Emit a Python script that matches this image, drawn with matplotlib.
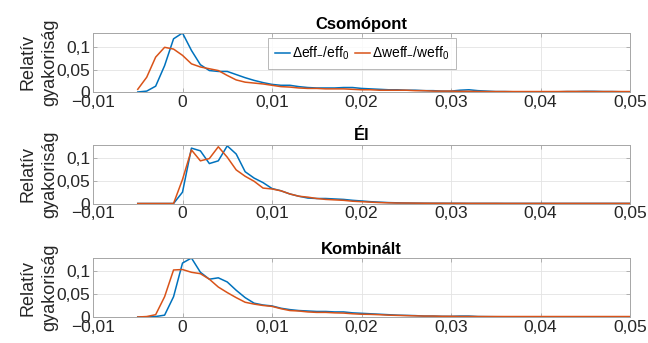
import numpy as np
import matplotlib
matplotlib.use("Agg")
import matplotlib.pyplot as plt
from matplotlib.ticker import FuncFormatter

plt.rcParams['font.family'] = ['Liberation Sans', 'DejaVu Sans']
plt.rcParams['mathtext.fontset'] = 'custom'
plt.rcParams['mathtext.rm'] = 'Liberation Sans'
plt.rcParams['mathtext.it'] = 'Liberation Sans:italic'

# x positions: -0.005 .. 0.050 step 0.001
x_start, x_stop, x_step = -0.005, 0.050, 0.001
x = np.round(np.arange(x_start, x_stop + x_step / 2, x_step), 4)

titles = ["Csomópont", "Él", "Kombinált"]
legend_labels = ["Δeff$_{-}$/eff$_{0}$", "Δweff$_{-}$/weff$_{0}$"]
ylabel = "Relatív\ngyakoriság"

csomo_eff = [0, 0.002, 0.013, 0.059, 0.119, 0.132, 0.093, 0.061, 0.048, 0.046,
             0.046, 0.039, 0.032, 0.026, 0.021, 0.017, 0.015, 0.015, 0.012, 0.010,
             0.009, 0.009, 0.009, 0.010, 0.010, 0.008, 0.007, 0.006, 0.005, 0.005,
             0.004, 0.004, 0.003, 0.003, 0.002, 0.002, 0.004, 0.005, 0.003, 0.002,
             0.001, 0.001, 0.0005, 0.0005, 0.0005, 0.0005, 0.0005, 0.0005, 0.001, 0.001,
             0.0015, 0.0015, 0.001, 0.001, 0.0005, 0.0005]
csomo_weff = [0.006, 0.033, 0.078, 0.100, 0.096, 0.082, 0.063, 0.056, 0.052, 0.048,
              0.037, 0.027, 0.022, 0.020, 0.018, 0.015, 0.012, 0.011, 0.009, 0.008,
              0.008, 0.007, 0.007, 0.007, 0.006, 0.005, 0.005, 0.004, 0.004, 0.004,
              0.004, 0.003, 0.003, 0.002, 0.002, 0.002, 0.0015, 0.0015, 0.0012, 0.001,
              0.001, 0.001, 0.001, 0.001, 0.001, 0.001, 0.001, 0.001, 0.0012, 0.0012,
              0.0012, 0.001, 0.001, 0.001, 0.001, 0.001]
el_eff = [0, 0, 0, 0, 0, 0.025, 0.122, 0.116, 0.088, 0.094,
          0.127, 0.109, 0.070, 0.056, 0.046, 0.033, 0.028, 0.021, 0.016, 0.012,
          0.011, 0.011, 0.010, 0.009, 0.007, 0.0056, 0.004, 0.003, 0.002, 0.0015,
          0.001, 0.0008, 0.0006, 0.0005, 0.0005, 0.0004, 0.0004, 0.0003, 0.0003, 0.0003,
          0.0003, 0.0002, 0.0002, 0.0002, 0.0002, 0.0002, 0.0002, 0.0002, 0.0002, 0.0002,
          0.0002, 0.0002, 0.0002, 0.0002, 0.0002, 0.0002]
el_weff = [0, 0, 0, 0, 0, 0.053, 0.118, 0.094, 0.099, 0.125,
           0.102, 0.074, 0.060, 0.049, 0.034, 0.032, 0.028, 0.021, 0.016, 0.014,
           0.011, 0.009, 0.008, 0.007, 0.005, 0.004, 0.003, 0.002, 0.0015, 0.001,
           0.001, 0.0008, 0.0006, 0.0005, 0.0005, 0.0004, 0.0004, 0.0003, 0.0003, 0.0003,
           0.0003, 0.0002, 0.0002, 0.0002, 0.0002, 0.0002, 0.0002, 0.0002, 0.0002, 0.0002,
           0.0002, 0.0002, 0.0002, 0.0002, 0.0002, 0.0002]
komb_eff = [0, 0, 0.001, 0.004, 0.044, 0.117, 0.128, 0.097, 0.082, 0.085,
            0.076, 0.058, 0.042, 0.030, 0.026, 0.024, 0.019, 0.016, 0.014, 0.013,
            0.012, 0.012, 0.011, 0.011, 0.009, 0.008, 0.007, 0.006, 0.005, 0.004,
            0.0035, 0.003, 0.002, 0.002, 0.0015, 0.0014, 0.002, 0.002, 0.001, 0.0008,
            0.0006, 0.0005, 0.0005, 0.0005, 0.0005, 0.0004, 0.0004, 0.0004, 0.0004, 0.0004,
            0.0004, 0.0003, 0.0003, 0.0003, 0.0003, 0.0003]
komb_weff = [0, 0.001, 0.005, 0.044, 0.102, 0.103, 0.097, 0.094, 0.082, 0.065,
             0.053, 0.042, 0.032, 0.028, 0.025, 0.023, 0.018, 0.014, 0.013, 0.011,
             0.010, 0.010, 0.009, 0.0085, 0.007, 0.006, 0.0057, 0.005, 0.004, 0.0035,
             0.003, 0.0025, 0.002, 0.002, 0.0015, 0.0015, 0.0012, 0.0012, 0.001, 0.001,
             0.001, 0.001, 0.001, 0.001, 0.001, 0.001, 0.001, 0.001, 0.001, 0.001,
             0.001, 0.001, 0.001, 0.001, 0.001, 0.001]

series = [(csomo_eff, csomo_weff), (el_eff, el_weff), (komb_eff, komb_weff)]
ytops = [0.132, 0.130, 0.128]
xticks = [-0.01, 0, 0.01, 0.02, 0.03, 0.04, 0.05]
yticks = [0, 0.05, 0.1]

blue = '#0072BD'
orange = '#D95319'
edge = '#a6a6a6'

def fmt(v, pos):
    if abs(v) < 1e-12:
        return '0'
    s = ('%g' % v).replace('.', ',')
    return s.replace('-', '\u2212')

fig = plt.figure(figsize=(6.48, 3.43), dpi=100)
W, H = 648, 343
left, right = 93, 630
tops = [33, 144.5, 258]
h = 59
axes = []
for i in range(3):
    ax = fig.add_axes([left / W, 1 - (tops[i] + h) / H, (right - left) / W, h / H])
    axes.append(ax)
    e, w = series[i]
    l1, = ax.plot(x, e, color=blue, lw=1.1)
    l2, = ax.plot(x, w, color=orange, lw=1.1)
    ax.set_xlim(-0.01, 0.05)
    ax.set_ylim(0, ytops[i])
    ax.set_xticks(xticks)
    ax.set_yticks(yticks)
    ax.xaxis.set_major_formatter(FuncFormatter(fmt))
    ax.yaxis.set_major_formatter(FuncFormatter(fmt))
    ax.tick_params(direction='in', length=3, width=0.6, color=edge, labelsize=12.5,
                   labelcolor='#262626', top=True, right=True, pad=2)
    ax.grid(True, color='#e3e3e3', lw=0.6)
    ax.set_axisbelow(True)
    for sp in ax.spines.values():
        sp.set_color(edge)
        sp.set_linewidth(0.7)
    ax.set_title(titles[i], fontsize=12, fontweight='bold', pad=3, color='black')
    ax.set_ylabel(ylabel, fontsize=13, color='#262626', linespacing=1.4)
    ax.yaxis.set_label_coords(-0.064, 0.5)
    if i == 0:
        leg = ax.legend([l1, l2], legend_labels, ncol=2, loc='upper left',
                        bbox_to_anchor=(0.326, 0.92), borderaxespad=0, fontsize=10,
                        handlelength=1.1, handletextpad=0.15, columnspacing=0.35,
                        borderpad=0.5, frameon=True, fancybox=False)
        leg.get_frame().set_edgecolor(edge)
        leg.get_frame().set_linewidth(0.7)

fig.savefig('out.png', dpi=100)
